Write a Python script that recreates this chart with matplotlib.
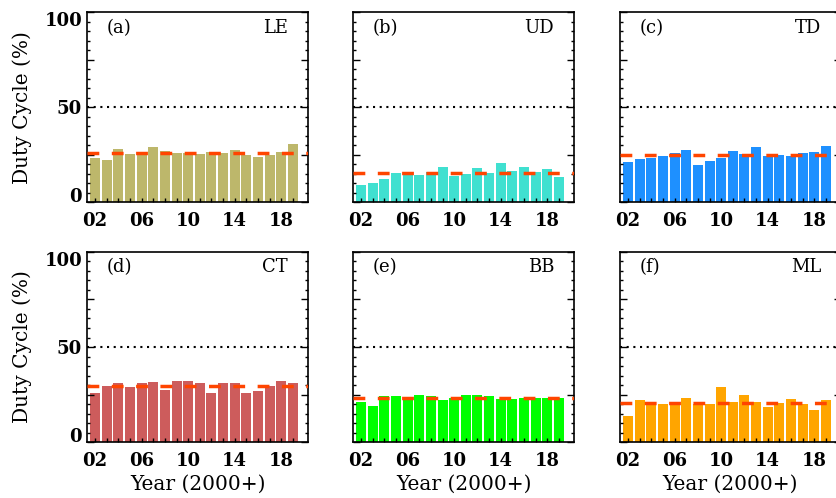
import matplotlib
matplotlib.use('Agg')
import matplotlib.pyplot as plt
from matplotlib.ticker import MultipleLocator, FixedLocator, FixedFormatter

# years 2002..2019, plotted as 2-digit offsets from 2000
years = list(range(2, 20))

le = [23.4, 22.4, 28.1, 25.5, 25.5, 29.2, 27.1, 26.0, 26.0, 25.5, 26.6, 26.0, 27.6, 25.0, 24.0, 25.0, 26.6, 30.8]
ud = [9.3, 10.3, 12.4, 15.6, 15.6, 14.5, 16.1, 18.7, 14.0, 15.0, 18.2, 15.6, 20.8, 16.6, 18.7, 16.1, 17.7, 13.5]
td = [21.3, 22.9, 23.4, 24.5, 26.0, 27.6, 19.8, 21.9, 23.4, 27.1, 25.5, 29.2, 24.5, 25.0, 24.5, 26.0, 26.6, 29.7]
ct = [26.0, 29.7, 30.8, 28.7, 30.8, 31.8, 27.6, 32.3, 32.3, 31.3, 26.0, 30.8, 30.8, 26.0, 27.1, 29.7, 32.3, 30.8]
bb = [20.8, 19.2, 24.0, 24.0, 22.4, 24.5, 24.0, 21.9, 23.4, 24.5, 25.0, 24.0, 22.4, 22.4, 22.9, 23.4, 22.9, 23.4]
ml = [13.5, 21.9, 20.3, 19.8, 20.8, 22.9, 19.8, 19.8, 29.2, 20.8, 25.0, 20.8, 18.2, 20.3, 22.4, 19.8, 16.6, 21.9]

means = [26.2, 15.6, 25.0, 29.7, 23.1, 20.6]
panel_tags = ['(a)', '(b)', '(c)', '(d)', '(e)', '(f)']
panel_names = ['LE', 'UD', 'TD', 'CT', 'BB', 'ML']
colors = ['#BDB76B', '#40E0D0', '#1E90FF', '#CD5C5C', '#00FF00', '#FFA500']
series = [le, ud, td, ct, bb, ml]

xtick_pos = [2, 6, 10, 14, 18]
xtick_lbl = ['02', '06', '10', '14', '18']
ytick_pos = [0, 25, 50, 75, 100]
ytick_lbl = ['0', '', '50', '', '100']

W, H = 836, 498
plt.rcParams['font.family'] = 'DejaVu Serif'
fig = plt.figure(figsize=(W / 100, H / 100), dpi=100)

lefts = [87, 353, 620]
tops = [12.5, 252]
aw, ah = 221, 190

for i in range(6):
    r, c = divmod(i, 3)
    l, t = lefts[c], tops[r]
    ax = fig.add_axes([l / W, 1 - (t + ah) / H, aw / W, ah / H])
    ax.bar(years, series[i], width=0.86, color=colors[i], zorder=1)
    ax.axhline(50, color='black', ls=(0, (1, 2.2)), lw=1.5, zorder=2)
    ax.axhline(means[i], color='#FF4500', ls=(0, (3.4, 3.6)), lw=2.5, zorder=3)
    ax.set_xlim(1.3, 20.3)
    ax.set_ylim(0, 100)

    ax.yaxis.set_major_locator(FixedLocator(ytick_pos))
    ax.yaxis.set_minor_locator(MultipleLocator(5))
    ax.xaxis.set_major_locator(FixedLocator(xtick_pos))
    ax.xaxis.set_major_formatter(FixedFormatter(xtick_lbl))
    ax.xaxis.set_minor_locator(FixedLocator(years))
    ax.tick_params(axis='x', which='both', direction='in', length=3, width=1, top=False, pad=7,
                   labelsize=13)
    ax.tick_params(axis='y', which='major', direction='in', length=5, width=1, right=True,
                   labelsize=13)
    ax.tick_params(axis='y', which='minor', direction='in', length=2.5, width=1, right=True)
    for lb in ax.get_xticklabels():
        lb.set_fontweight('bold')

    if c == 0:
        ax.yaxis.set_major_formatter(FixedFormatter(ytick_lbl))
        lbls = ax.get_yticklabels()
        for lb in lbls:
            lb.set_fontweight('bold')
        lbls[0].set_va('baseline')
        lbls[4].set_va('top')
        ax.set_ylabel('Duty Cycle (%)', fontsize=14.5, labelpad=9)
    else:
        ax.set_yticklabels([])
    if r == 1:
        ax.set_xlabel('Year (2000+)', fontsize=14.5, labelpad=4)

    ax.text(0.09, 0.92, panel_tags[i], transform=ax.transAxes, fontsize=13,
            ha='left', va='center')
    ax.text(0.91, 0.92, panel_names[i], transform=ax.transAxes, fontsize=13,
            ha='right', va='center')
    for s in ax.spines.values():
        s.set_linewidth(1.2)

fig.savefig('out.png', dpi=100)
